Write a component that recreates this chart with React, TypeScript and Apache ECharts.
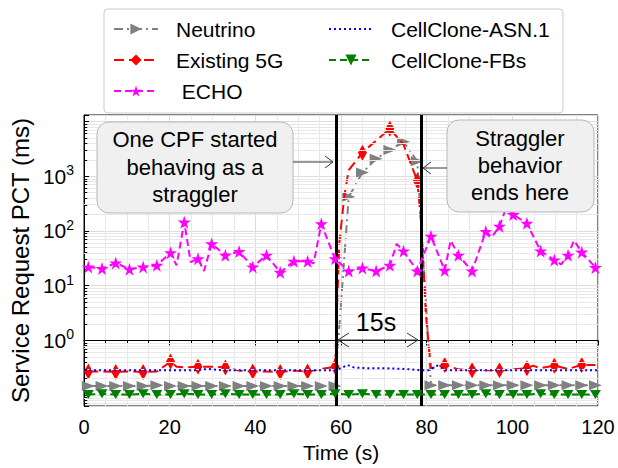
import React, { useEffect, useRef } from "react";
import * as echarts from "echarts";

// sample times (s) where markers sit
const markerTimes = [1.0, 4.2, 7.4, 10.6, 13.8, 17.0, 20.2, 23.4, 26.6, 29.8, 33.0, 36.2, 39.4, 42.6, 45.8, 49.0, 52.2, 55.4, 58.6, 61.8, 65.0, 68.2, 71.4, 74.6, 77.8, 81.0, 84.2, 87.4, 90.6, 93.8, 97.0, 100.2, 103.4, 106.6, 109.8, 113.0, 116.2, 119.4];

// Neutrino (ms)
const neutrinoTimes = markerTimes;
const neutrinoValues = [0.146, 0.146, 0.146, 0.146, 0.146, 0.151, 0.146, 0.146, 0.146, 0.146, 0.146, 0.146, 0.146, 0.146, 0.146, 0.146, 0.146, 0.146, 0.146, 420, 1170, 2080, 3030, 4270, 1880, 0.151, 0.151, 0.151, 0.151, 0.151, 0.151, 0.151, 0.151, 0.151, 0.151, 0.151, 0.151, 0.151];

// Existing 5G (ms)
const fiveGTimes = [1.0, 4.2, 7.4, 10.6, 13.8, 17.0, 20.2, 21.6, 23.4, 26.6, 29.8, 33.0, 36.2, 39.4, 42.6, 45.8, 49.0, 52.2, 55.4, 58.6, 59.6, 60.8, 61.8, 65.0, 68.2, 71.4, 74.6, 77.8, 78.8, 79.8, 81.0, 84.2, 87.4, 90.6, 93.8, 97.0, 100.2, 103.4, 104.8, 106.6, 109.8, 113.0, 116.2, 119.4];
const fiveGValues = [0.27, 0.27, 0.265, 0.27, 0.265, 0.27, 0.41, 0.33, 0.32, 0.33, 0.33, 0.32, 0.28, 0.27, 0.27, 0.265, 0.28, 0.27, 0.30, 0.33, 60, 450, 1300, 2700, 4500, 7400, 3800, 830, 120, 3, 0.31, 0.355, 0.295, 0.285, 0.285, 0.285, 0.295, 0.31, 0.345, 0.31, 0.345, 0.30, 0.355, 0.355];
const fiveGMarkerTimes = [1.0, 7.4, 13.8, 20.2, 26.6, 33.0, 39.4, 45.8, 52.2, 58.6, 65.0, 71.4, 77.8, 84.2, 90.6, 97.0, 103.4, 109.8, 116.2];

// ECHO (ms)
const echoTimes = [1.0, 4.2, 7.4, 10.6, 13.8, 17.0, 20.2, 21.6, 23.4, 24.9, 26.6, 28.0, 29.8, 33.0, 36.2, 39.4, 42.6, 45.8, 49.0, 52.2, 53.6, 55.4, 58.6, 61.8, 65.0, 68.2, 71.4, 73.0, 74.6, 77.8, 81.0, 84.2, 85.6, 87.4, 90.6, 93.8, 95.2, 97.0, 98.6, 100.2, 103.4, 106.6, 109.8, 111.4, 113.0, 114.4, 116.2, 119.4];
const echoValues = [22, 20.5, 26, 20, 22, 23.5, 40, 23.5, 145, 27, 31, 18.5, 58, 36, 42, 22, 36, 17.5, 28, 28, 25.5, 135, 31, 18.5, 21, 18.5, 23.5, 58, 43, 18.5, 80, 19, 67, 36, 18.5, 98, 77, 122, 270, 200, 138, 43, 29.5, 24.5, 36, 67, 41, 21.5];

// CellClone-ASN.1 (ms)
const asnTimes = [0, 10, 20, 26, 29, 32, 40, 50, 58.6, 60, 61.5, 63, 66, 70, 75, 78.6, 80.5, 82.5, 84.5, 90, 100, 110, 120];
const asnValues = [0.285, 0.285, 0.285, 0.285, 0.30, 0.285, 0.285, 0.285, 0.285, 0.31, 0.355, 0.32, 0.31, 0.31, 0.30, 0.285, 0.285, 0.345, 0.285, 0.285, 0.285, 0.285, 0.285];

// CellClone-FBs (ms)
const fbsTimes = markerTimes;
const fbsValues = [0.102, 0.106, 0.102, 0.102, 0.106, 0.102, 0.102, 0.106, 0.102, 0.102, 0.106, 0.102, 0.102, 0.102, 0.102, 0.106, 0.102, 0.102, 0.106, 0.102, 0.106, 0.102, 0.102, 0.102, 0.102, 0.102, 0.102, 0.102, 0.102, 0.106, 0.102, 0.102, 0.102, 0.106, 0.102, 0.102, 0.102, 0.102];

// straggler window (s)
const stragglerStart = 58.9;
const stragglerEnd = 78.7;

const xTicks = [0, 20, 40, 60, 80, 100, 120];
const yDecades = [0, 1, 2, 3];

const legendColumn1 = ["Neutrino", "Existing 5G", " ECHO"];
const legendColumn2 = ["CellClone-ASN.1", "CellClone-FBs"];

const FONT = "Liberation Sans, Arial, sans-serif";
const STAR = "path://M50 0 L61.2 34.5 L97.6 34.5 L68.2 55.9 L79.4 90.5 L50 69.1 L20.6 90.5 L31.8 55.9 L2.4 34.5 L38.8 34.5 Z";
// zero-area path: keeps the legend icon a plain line
const NO_SYMBOL = "path://M0 0 L10 10";

const Y_MIN = -1.2;
const Y_MAX = 4.12;

function build(times: number[], values: number[], marks?: number[]) {
  return times.map((t, i) => {
    const item: any = { value: [t, Math.log10(values[i])] };
    if (marks && marks.indexOf(t) < 0) item.symbol = "none";
    return item;
  });
}

function makeLegend(names: string[], left: number) {
  return {
    data: names.slice(),
    orient: "vertical",
    left: left,
    top: 12,
    itemWidth: 44,
    itemHeight: 14,
    itemGap: 7,
    textStyle: { fontSize: 21, color: "#000", fontFamily: FONT, lineHeight: 24, padding: [0, 0, 0, 13] },
  };
}

export default function App() {
  const ref = useRef<HTMLDivElement>(null);
  useEffect(() => {
    if (!ref.current) return;
    const chart = echarts.init(ref.current, undefined, { renderer: "svg" });

    const minorGrid: any[] = [];
    const minorTicks: any[] = [];
    for (let d = -2; d <= 4; d++) {
      for (let k = 2; k <= 9; k++) {
        const y = d + Math.log10(k);
        if (y > Y_MIN && y < Y_MAX) {
          minorGrid.push({ yAxis: y });
          minorTicks.push([
            { coord: [0, y], lineStyle: { color: "#000", width: 1, type: "solid" } },
            { coord: [0.75, y] },
          ]);
        }
      }
    }

    const option: any = {
      animation: false,
      backgroundColor: "#fff",
      textStyle: { fontFamily: FONT },
      grid: { left: 83, right: 20, top: 115, bottom: 60, show: true, borderColor: "#000", borderWidth: 1 },
      legend: [makeLegend(legendColumn1, 108), makeLegend(legendColumn2, 323)],
      xAxis: {
        type: "value",
        min: 0,
        max: 120,
        interval: 20,
        name: "Time (s)",
        nameLocation: "middle",
        nameGap: 36,
        nameTextStyle: { fontSize: 21, color: "#000", fontFamily: FONT },
        axisLine: { lineStyle: { color: "#000", width: 1 } },
        axisTick: { show: true, length: 5, lineStyle: { color: "#000" } },
        minorTick: { show: true, splitNumber: 4, length: 3, lineStyle: { color: "#000" } },
        axisLabel: {
          fontSize: 20,
          color: "#000",
          margin: 11,
          fontFamily: FONT,
          formatter: (v: number) => (xTicks.indexOf(v) >= 0 ? String(v) : ""),
        },
        splitLine: { show: true, lineStyle: { color: "#dcdcdc", width: 1 } },
        minorSplitLine: { show: true, lineStyle: { color: "#e8e8e8", width: 1 } },
      },
      yAxis: {
        type: "value",
        min: Y_MIN,
        max: Y_MAX,
        splitNumber: 5,
        name: "Service Request PCT (ms)",
        nameLocation: "middle",
        nameGap: 48,
        nameTextStyle: { fontSize: 24, color: "#000", fontFamily: FONT },
        axisLine: { lineStyle: { color: "#000", width: 1 } },
        axisTick: { show: true, inside: true, length: 5, lineStyle: { color: "#000" } },
        axisLabel: {
          margin: 10,
          formatter: (v: number) => {
            const r = Math.round(v);
            if (Math.abs(v - r) > 1e-6 || yDecades.indexOf(r) < 0) return "";
            return "{b|10}{s|" + r + "}";
          },
          rich: {
            b: { fontSize: 21, lineHeight: 26, color: "#000", fontFamily: FONT },
            s: { fontSize: 14, lineHeight: 14, verticalAlign: "top", color: "#000", fontFamily: FONT },
          },
        },
        splitLine: { show: true, lineStyle: { color: "#dcdcdc", width: 1 } },
      },
      series: [
        {
          name: "minor",
          type: "line",
          data: [],
          z: 1,
          markLine: {
            silent: true,
            symbol: ["none", "none"],
            label: { show: false },
            lineStyle: { color: "#e8e8e8", width: 1, type: "solid" },
            data: [...minorGrid, ...minorTicks],
          },
        },
        {
          name: "Neutrino",
          type: "line",
          data: build(neutrinoTimes, neutrinoValues),
          symbol: "triangle",
          symbolRotate: -90,
          symbolSize: [10, 13],
          showAllSymbol: true,
          lineStyle: { color: "#808080", width: 2, type: [9, 4, 2, 4] },
          itemStyle: { color: "#808080" },
          z: 3,
        },
        {
          name: "Existing 5G",
          type: "line",
          data: build(fiveGTimes, fiveGValues, fiveGMarkerTimes),
          symbol: "diamond",
          symbolSize: [9, 16],
          showAllSymbol: true,
          lineStyle: { color: "#ff0000", width: 2, type: [10, 5] },
          itemStyle: { color: "#ff0000" },
          z: 4,
        },
        {
          name: " ECHO",
          type: "line",
          data: build(echoTimes, echoValues, markerTimes),
          symbol: STAR,
          symbolSize: 13,
          showAllSymbol: true,
          lineStyle: { color: "#ff00ff", width: 2, type: [7, 4] },
          itemStyle: { color: "#ff00ff" },
          z: 5,
        },
        {
          name: "CellClone-ASN.1",
          type: "line",
          data: build(asnTimes, asnValues),
          symbol: NO_SYMBOL,
          showSymbol: false,
          lineStyle: { color: "#0000ff", width: 2, type: [2, 3] },
          itemStyle: { color: "#0000ff" },
          z: 6,
        },
        {
          name: "CellClone-FBs",
          type: "line",
          data: build(fbsTimes, fbsValues),
          symbol: "triangle",
          symbolRotate: 180,
          symbolSize: [11, 9],
          showAllSymbol: true,
          lineStyle: { color: "#008000", width: 2, type: [7, 4] },
          itemStyle: { color: "#008000" },
          z: 6,
        },
        {
          name: "straggler",
          type: "line",
          data: [],
          z: 10,
          markLine: {
            silent: true,
            symbol: ["none", "none"],
            label: { show: false },
            lineStyle: { color: "#000", width: 3, type: "solid" },
            data: [{ xAxis: stragglerStart }, { xAxis: stragglerEnd }],
          },
        },
      ],
      graphic: [
        {
          type: "rect",
          shape: { x: 104, y: 9, width: 459, height: 104, r: 4 },
          style: { fill: "#fff", stroke: "#cccccc", lineWidth: 1 },
          z: 0,
        },
        {
          type: "rect",
          shape: { x: 97, y: 122, width: 196, height: 91, r: 12 },
          style: { fill: "#f0f0f0", stroke: "#b8b8b8", lineWidth: 1 },
          z: 100,
        },
        {
          type: "text",
          x: 195,
          y: 167,
          style: {
            text: "One CPF started\nbehaving as a\nstraggler",
            fontSize: 22,
            fontFamily: FONT,
            lineHeight: 27.5,
            fill: "#000",
            align: "center",
            verticalAlign: "middle",
            textAlign: "center",
            textVerticalAlign: "middle",
          },
          z: 101,
        },
        {
          type: "rect",
          shape: { x: 447, y: 120, width: 147, height: 92, r: 12 },
          style: { fill: "#f0f0f0", stroke: "#b8b8b8", lineWidth: 1 },
          z: 100,
        },
        {
          type: "text",
          x: 520,
          y: 165,
          style: {
            text: "Straggler\nbehavior\nends here",
            fontSize: 22,
            fontFamily: FONT,
            lineHeight: 27,
            fill: "#000",
            align: "center",
            verticalAlign: "middle",
            textAlign: "center",
            textVerticalAlign: "middle",
          },
          z: 101,
        },
        {
          type: "line",
          shape: { x1: 293, y1: 162, x2: 333, y2: 162 },
          style: { stroke: "#333", lineWidth: 1 },
          z: 100,
        },
        {
          type: "polyline",
          shape: { points: [[325, 156], [333, 162], [325, 168]] },
          style: { stroke: "#333", lineWidth: 1, fill: "none" },
          z: 100,
        },
        {
          type: "line",
          shape: { x1: 447, y1: 168, x2: 423, y2: 168 },
          style: { stroke: "#333", lineWidth: 1 },
          z: 100,
        },
        {
          type: "polyline",
          shape: { points: [[431, 162], [423, 168], [431, 174]] },
          style: { stroke: "#333", lineWidth: 1, fill: "none" },
          z: 100,
        },
        {
          type: "line",
          shape: { x1: 338, y1: 340, x2: 418, y2: 340 },
          style: { stroke: "#333", lineWidth: 1 },
          z: 100,
        },
        {
          type: "polyline",
          shape: { points: [[349, 333], [338, 340], [349, 347]] },
          style: { stroke: "#333", lineWidth: 1, fill: "none" },
          z: 100,
        },
        {
          type: "polyline",
          shape: { points: [[407, 333], [418, 340], [407, 347]] },
          style: { stroke: "#333", lineWidth: 1, fill: "none" },
          z: 100,
        },
        {
          type: "text",
          x: 376,
          y: 322,
          style: {
            text: "15s",
            fontSize: 25,
            fontFamily: FONT,
            fill: "#000",
            align: "center",
            verticalAlign: "middle",
            textAlign: "center",
            textVerticalAlign: "middle",
          },
          z: 100,
        },
      ],
    };

    chart.setOption(option);
    return () => chart.dispose();
  }, []);

  return (
    <div
      ref={ref}
      style={{ position: "fixed", left: 0, top: 0, width: 618, height: 468 }}
    />
  );
}
